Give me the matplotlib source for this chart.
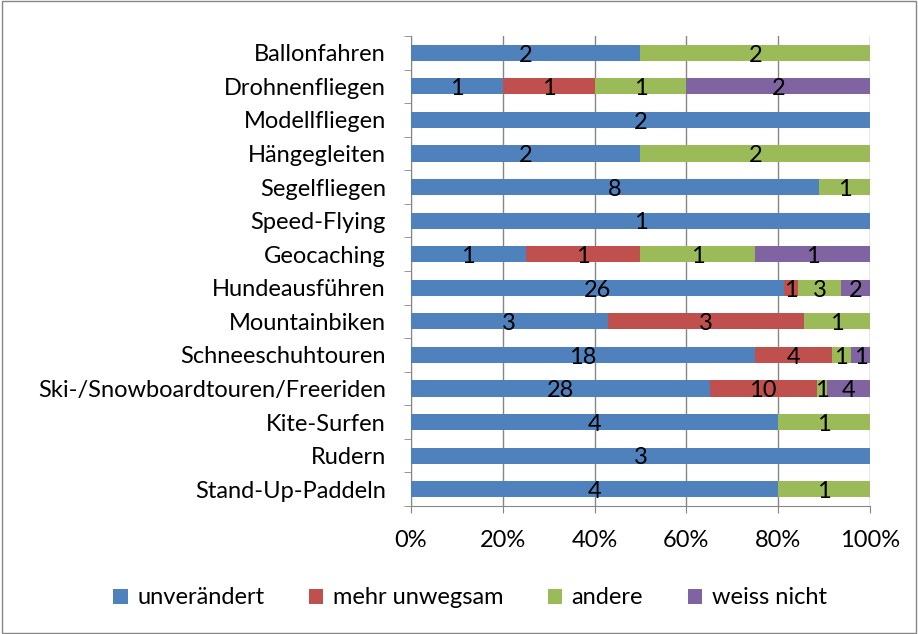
import matplotlib.pyplot as plt
import numpy as np
from matplotlib.patches import Rectangle

plt.rcParams['font.family'] = ['Lato', 'DejaVu Sans']

categories = ['Ballonfahren', 'Drohnenfliegen', 'Modellfliegen', 'Hängegleiten',
              'Segelfliegen', 'Speed-Flying', 'Geocaching', 'Hundeausführen',
              'Mountainbiken', 'Schneeschuhtouren', 'Ski-/Snowboardtouren/Freeriden',
              'Kite-Surfen', 'Rudern', 'Stand-Up-Paddeln']
unveraendert = [2, 1, 2, 2, 8, 1, 1, 26, 3, 18, 28, 4, 3, 4]
mehr_unwegsam = [0, 1, 0, 0, 0, 0, 1, 1, 3, 4, 10, 0, 0, 0]
andere = [2, 1, 0, 2, 1, 0, 1, 3, 1, 1, 1, 1, 0, 1]
weiss_nicht = [0, 2, 0, 0, 0, 0, 1, 2, 0, 1, 4, 0, 0, 0]

series = [('unverändert', unveraendert, '#4F81BD'),
          ('mehr unwegsam', mehr_unwegsam, '#C0504D'),
          ('andere', andere, '#9BBB59'),
          ('weiss nicht', weiss_nicht, '#8064A2')]

FS = 17

fig = plt.figure(figsize=(9.18, 6.34), dpi=100, facecolor='white')
ax = fig.add_axes([0.4477, 0.2019, 0.5, 0.7413])

totals = np.sum([s[1] for s in series], axis=0).astype(float)
y = np.arange(len(categories))
left = np.zeros(len(categories))
for name, vals, col in series:
    vals = np.array(vals, dtype=float)
    w = vals / totals
    ax.barh(y, w, left=left, height=0.48, color=col, label=name, zorder=3)
    for yi, (v, l, wi) in enumerate(zip(vals, left, w)):
        if v > 0:
            ax.text(l + wi / 2, yi + 0.07, f'{int(v)}', ha='center', va='center',
                    fontsize=FS, color='black', zorder=4)
    left += w

ax.set_xlim(0, 1)
ax.set_ylim(len(categories) - 0.5, -0.5)
ticks = np.arange(0, 1.01, 0.2)
ax.set_xticks(ticks)
ax.set_xticklabels([f'{int(round(t*100))}%' for t in ticks], fontsize=FS)
ax.set_yticks(y)
ax.set_yticklabels(categories, fontsize=FS)
ax.set_yticks(np.arange(-0.5, len(categories)), minor=True)
ax.tick_params(axis='y', which='major', length=0, pad=18)
ax.tick_params(axis='y', which='minor', length=5, color='#868686', direction='out')
ax.tick_params(axis='x', length=5, color='#868686', direction='out', pad=12)
ax.grid(axis='x', color='#868686', linewidth=1, zorder=0)
for s in ['top', 'right']:
    ax.spines[s].set_visible(False)
for s in ['left', 'bottom']:
    ax.spines[s].set_color('#868686')

fig.legend(loc='center', bbox_to_anchor=(0.512, 0.057), ncol=4, frameon=False,
           fontsize=FS, handlelength=0.6, handleheight=0.6, handletextpad=0.4,
           columnspacing=1.9)

fig.patches.append(Rectangle((0.002, 0.002), 0.996, 0.996, transform=fig.transFigure,
                             fill=False, edgecolor='#868686', linewidth=1))

fig.savefig('out.png', dpi=100, facecolor='white')
